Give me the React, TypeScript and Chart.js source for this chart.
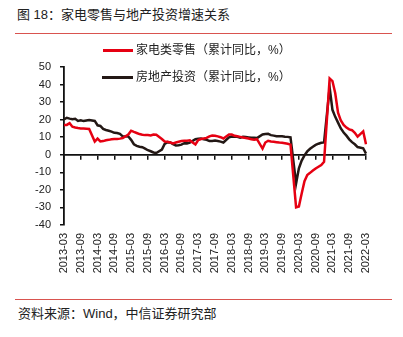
import { useEffect, useRef } from "react";
import { Chart, registerables } from "chart.js";

Chart.register(...registerables);

// Monthly categories 2013-03 … 2022-03 (January values are not published → null)
const firstYear = 2013;
const lastYear = 2022;
const categories: string[] = [];
for (let y = firstYear; y <= lastYear; y++) {
  for (let m = 1; m <= 12; m++) {
    if (y === firstYear && m < 3) continue;
    if (y === lastYear && m > 3) continue;
    categories.push(`${y}-${String(m).padStart(2, "0")}`);
  }
}

// 家电类零售（累计同比，%）
const applianceRetail: (number | null)[] = [
  17.0, 17.0, 18.0, 16.0, 15.5, 15.2, 15.0, 14.9, 14.8, 14.7, // 2013-03..12
  null, 7.5, 9.2, 7.6, 7.8, 8.3, 8.5, 8.8, 9.0, 9.0, 9.2, 9.5, // 2014
  null, 11.5, 13.7, 13.0, 12.4, 11.8, 11.4, 11.2, 11.2, 11.0, 11.5, 11.4, // 2015
  null, 9.0, 7.6, 7.4, 7.0, 6.5, 7.0, 7.4, 7.8, 8.0, 8.0, 8.2, // 2016
  null, 5.9, 8.4, 9.0, 9.3, 9.6, 10.5, 11.0, 10.8, 10.5, 10.0, 9.3, // 2017
  null, 11.5, 11.5, 10.8, 10.5, 10.2, 9.9, 9.6, 9.3, 8.8, 8.6, 8.9, // 2018
  null, 3.5, 7.0, 8.0, 7.6, 7.4, 7.2, 7.0, 6.9, 6.6, 6.3, 5.8, // 2019
  null, -30.0, -29.5, -22.0, -15.0, -11.5, -10.3, -9.0, -7.8, -6.8, -5.8, -4.0, // 2020
  null, 43.5, 42.0, 35.0, 24.0, 19.5, 17.0, 15.5, 14.5, 14.0, 12.5, 10.3, // 2021
  null, 13.3, 6.0, // 2022-01..03
];

// 房地产投资（累计同比，%）
const realEstateInvestment: (number | null)[] = [
  20.2, 21.1, 20.6, 20.3, 20.5, 19.3, 19.7, 19.2, 19.5, 19.8, // 2013-03..12
  null, 19.3, 16.8, 16.4, 14.7, 14.1, 13.7, 13.2, 12.5, 12.4, 11.9, 10.5, // 2014
  null, 10.4, 8.5, 6.0, 5.1, 4.6, 4.3, 3.5, 2.6, 2.0, 1.3, 1.0, // 2015
  null, 3.0, 6.2, 7.2, 7.0, 6.1, 5.3, 5.4, 5.8, 6.6, 6.5, 6.9, // 2016
  null, 8.9, 9.1, 9.3, 8.8, 8.5, 7.9, 7.9, 8.1, 7.8, 7.5, 7.0, // 2017
  null, 9.9, 10.4, 10.3, 10.2, 9.7, 10.2, 10.1, 9.9, 9.7, 9.7, 9.5, // 2018
  null, 11.6, 11.8, 11.9, 11.2, 10.9, 10.6, 10.5, 10.5, 10.3, 10.2, 9.9, // 2019
  null, -16.3, -7.7, -3.3, -0.3, 1.9, 3.4, 4.6, 5.6, 6.3, 6.8, 7.0, // 2020
  null, 38.3, 25.6, 21.6, 18.3, 15.0, 12.7, 10.9, 8.8, 7.2, 6.0, 4.4, // 2021
  null, 3.7, 0.7, // 2022-01..03
];

const seriesNames = ["家电类零售（累计同比，%）", "房地产投资（累计同比，%）"];
const yTicks = { min: -40, max: 50, step: 10 };
const labelEvery = 6;

const RED = "#e60012";
const BLACK = "#231815";
const RULE = "#d9534f";
const FONT = '"Liberation Sans", "Noto Sans CJK SC", sans-serif';

const keepEvery = (axis: any) => {
  axis.ticks = axis.ticks.filter((t: any) => t.value % labelEvery === 0);
};

export default function App() {
  const ref = useRef<HTMLCanvasElement | null>(null);

  useEffect(() => {
    document.body.style.margin = "0";
    if (!ref.current) return;
    const chart = new Chart(ref.current, {
      type: "line",
      data: {
        labels: categories,
        datasets: [
          {
            label: seriesNames[0],
            data: applianceRetail,
            borderColor: RED,
            borderWidth: 2.5,
            pointRadius: 0,
            tension: 0,
            spanGaps: true,
          },
          {
            label: seriesNames[1],
            data: realEstateInvestment,
            borderColor: BLACK,
            borderWidth: 2.5,
            pointRadius: 0,
            tension: 0,
            spanGaps: true,
          },
        ],
      },
      options: {
        responsive: false,
        animation: false,
        layout: { padding: { top: 27, right: 37, bottom: 17, left: 0 } },
        plugins: { legend: { display: false }, tooltip: { enabled: false } },
        scales: {
          x: {
            type: "category",
            position: "bottom",
            offset: false,
            afterBuildTicks: keepEvery,
            afterFit: (s: any) => {
              s.height = 48;
            },
            border: { display: false },
            grid: { display: false, drawTicks: false, tickLength: 0 },
            ticks: {
              autoSkip: false,
              maxRotation: 90,
              minRotation: 90,
              padding: 8,
              color: "#222",
              font: { family: FONT, size: 11 },
            },
          },
          x2: {
            type: "category",
            position: { y: 0 } as any,
            offset: false,
            afterBuildTicks: keepEvery,
            border: { display: true, color: "#111", width: 1.8 },
            grid: {
              drawOnChartArea: false,
              drawTicks: true,
              tickLength: 4,
              color: "#111",
              lineWidth: 1.5,
            },
            ticks: { display: false },
          },
          y: {
            position: "left",
            min: yTicks.min,
            max: yTicks.max,
            afterFit: (s: any) => {
              s.width = 64;
            },
            border: { display: true, color: "#111", width: 1.8 },
            grid: {
              drawOnChartArea: false,
              drawTicks: true,
              tickLength: 4,
              color: "#111",
              lineWidth: 1.5,
            },
            ticks: {
              stepSize: yTicks.step,
              padding: 9,
              color: "#222",
              font: { family: FONT, size: 11 },
            },
          },
        },
      },
    });
    return () => chart.destroy();
  }, []);

  return (
    <div
      style={{
        position: "absolute",
        left: 0,
        top: 0,
        width: 403,
        height: 337,
        fontFamily: FONT,
        color: "#222",
        background: "#fff",
      }}
    >
      <div style={{ position: "absolute", left: 17, top: 6, fontSize: 13, lineHeight: "18px", whiteSpace: "nowrap" }}>
        图 18：家电零售与地产投资增速关系
      </div>
      <div style={{ position: "absolute", left: 15, top: 33, width: 377, height: 1, background: RULE }} />
      <div style={{ position: "absolute", left: 0, top: 40, width: 403, height: 250 }}>
        <canvas ref={ref} width={403} height={250} />
      </div>
      <div style={{ position: "absolute", left: 103, top: 49, width: 30, height: 3, background: RED }} />
      <div style={{ position: "absolute", left: 136, top: 42, fontSize: 12, lineHeight: "16px", whiteSpace: "nowrap" }}>
        {seriesNames[0]}
      </div>
      <div style={{ position: "absolute", left: 102, top: 76, width: 31, height: 3, background: BLACK }} />
      <div style={{ position: "absolute", left: 136, top: 69, fontSize: 12, lineHeight: "16px", whiteSpace: "nowrap" }}>
        {seriesNames[1]}
      </div>
      <div style={{ position: "absolute", left: 15, top: 299, width: 377, height: 1, background: RULE }} />
      <div style={{ position: "absolute", left: 18, top: 305, fontSize: 13, lineHeight: "17px", whiteSpace: "nowrap" }}>
        资料来源：Wind，中信证券研究部
      </div>
    </div>
  );
}
